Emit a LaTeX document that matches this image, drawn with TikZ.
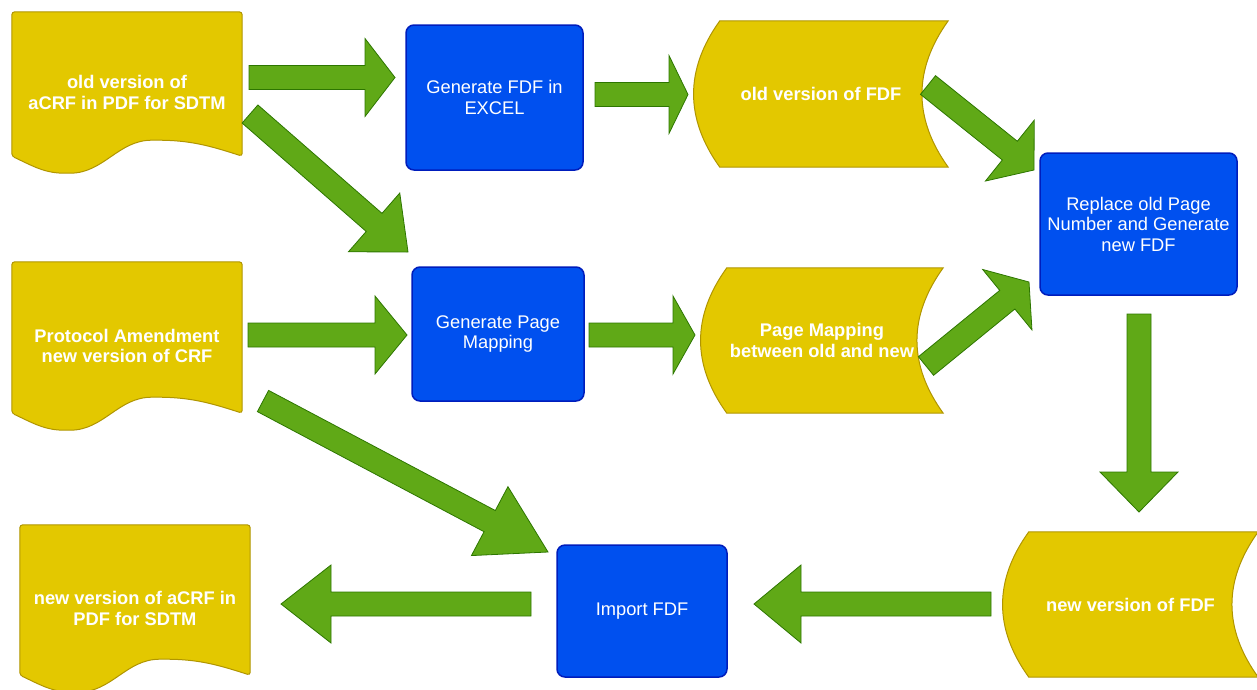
\documentclass[tikz,border=0pt]{standalone}
\usepackage{fontspec}
\setmainfont{Liberation Sans}
\usetikzlibrary{calc,backgrounds}

\definecolor{docyellow}{HTML}{E3C800}
\definecolor{docedge}{HTML}{B09500}
\definecolor{procblue}{HTML}{0050EF}
\definecolor{procedge}{HTML}{001DBC}
\definecolor{arrowgreen}{HTML}{60A917}
\definecolor{arrowedge}{HTML}{2D7600}

\tikzset{
	docnode/.style={rectangle, inner sep=0pt, text=white, align=center, font=\bfseries\fontsize{18.3}{20.5}\selectfont},
	procnode/.style={rectangle, rounded corners=8pt, fill=procblue, draw=procedge, line width=1.5pt, inner sep=0pt, text=white, align=center, font=\fontsize{18.3}{20.5}\selectfont},
	docline/.style={fill=docyellow, draw=docedge, line width=1pt, rounded corners=3pt},
	dataline/.style={fill=docyellow, draw=docedge, line width=1pt},
	arrowline/.style={fill=arrowgreen, draw=arrowedge, line width=0.8pt, line join=miter}
}

% document outline with wavy bottom, drawn round a named node
\newcommand{\docoutline}[1]{%
	\filldraw[docline] ($(#1.south west)+(0,-17)$) -- (#1.north west) -- (#1.north east) -- ($(#1.south east)+(0,-17)$)
		to[out=162,in=0] ($(#1.south west)!0.62!(#1.south east)+(0,-33)$)
		to[out=180,in=0] ($(#1.south west)!0.24!(#1.south east)$)
		to[out=180,in=-25] ($(#1.south west)+(0,-17)$) -- cycle;}

% stored data outline, drawn round a named node
\newcommand{\dataoutline}[1]{%
	\filldraw[dataline] ($(#1.north west)+(26,0)$) -- (#1.north east)
		.. controls ($(#1.north east)!0.333!(#1.south east)+(-35,0)$) and ($(#1.north east)!0.667!(#1.south east)+(-35,0)$) .. (#1.south east)
		-- ($(#1.south west)+(26,0)$)
		.. controls ($(#1.north west)!0.667!(#1.south west)+(-9,0)$) and ($(#1.north west)!0.333!(#1.south west)+(-9,0)$) .. ($(#1.north west)+(26,0)$) -- cycle;}

% block arrow: tail, tip, head length
\newcommand{\bigarrow}[3]{%
	\coordinate (hb) at ($(#2)!#3!(#1)$);
	\filldraw[arrowline] ($(#1)!12pt!90:(#2)$) -- ($(hb)!12pt!90:(#2)$) -- ($(hb)!39pt!90:(#2)$) -- (#2)
		-- ($(hb)!39pt!-90:(#2)$) -- ($(hb)!12pt!-90:(#2)$) -- ($(#1)!12pt!-90:(#2)$) -- cycle;}

\begin{document}
\begin{tikzpicture}[x=1pt, y=-1pt]

	\useasboundingbox (0,0) rectangle (1257,689);

	\node[docnode, minimum width=230pt, minimum height=161pt](oldacrf) at (127,92.5){old version of\\aCRF in PDF for SDTM};
	\node[docnode, minimum width=230pt, minimum height=168pt](protamend) at (127,346){Protocol Amendment\\new version of CRF};
	\node[docnode, minimum width=230pt, minimum height=167pt](newacrf) at (135,608.5){new version of aCRF in\\PDF for SDTM};

	\node[docnode, minimum width=254pt, minimum height=146pt](oldfdf) at (821,94){old version of FDF};
	\node[docnode, minimum width=242pt, minimum height=145pt](pagemap) at (822,340.5){Page Mapping\\between old and new};
	\node[docnode, minimum width=255pt, minimum height=145pt](newfdf) at (1130.5,604.5){new version of FDF};

	\begin{pgfonlayer}{background}
		\docoutline{oldacrf}
		\docoutline{protamend}
		\docoutline{newacrf}
		\dataoutline{oldfdf}
		\dataoutline{pagemap}
		\dataoutline{newfdf}
	\end{pgfonlayer}

	\node[procnode, minimum width=177pt, minimum height=145pt](genfdf) at (494.5,97.5){Generate FDF in\\EXCEL};
	\node[procnode, minimum width=172pt, minimum height=134pt](genmap) at (498,334){Generate Page\\Mapping};
	\node[procnode, minimum width=197pt, minimum height=142pt](replace) at (1138.5,224){Replace old Page\\Number and Generate\\new FDF};
	\node[procnode, minimum width=170pt, minimum height=132pt](import) at (642,611){Import FDF};

	\coordinate (a1s) at (249,77.5);   \coordinate (a1e) at (395,77.5);
	\coordinate (a2s) at (595,94.5);   \coordinate (a2e) at (688,94.5);
	\coordinate (a3s) at (250,114);    \coordinate (a3e) at (408,252);
	\coordinate (a4s) at (248,335);    \coordinate (a4e) at (407,335);
	\coordinate (a5s) at (589,335);    \coordinate (a5e) at (695,335);
	\coordinate (a6s) at (928,85);     \coordinate (a6e) at (1034,170);
	\coordinate (a7s) at (926,366);    \coordinate (a7e) at (1029,282);
	\coordinate (a8s) at (1139,314);   \coordinate (a8e) at (1139,512);
	\coordinate (a9s) at (991,604);    \coordinate (a9e) at (754,604);
	\coordinate (a10s) at (531,604);   \coordinate (a10e) at (281,604);
	\coordinate (a11s) at (263,401);   \coordinate (a11e) at (548,552);

	\bigarrow{a1s}{a1e}{30pt}
	\bigarrow{a2s}{a2e}{19pt}
	\bigarrow{a3s}{a3e}{45pt}
	\bigarrow{a4s}{a4e}{32pt}
	\bigarrow{a5s}{a5e}{22pt}
	\bigarrow{a6s}{a6e}{31pt}
	\bigarrow{a7s}{a7e}{28pt}
	\bigarrow{a8s}{a8e}{40pt}
	\bigarrow{a9s}{a9e}{47pt}
	\bigarrow{a10s}{a10e}{50pt}
	\bigarrow{a11s}{a11e}{66pt}

\end{tikzpicture}
\end{document}
